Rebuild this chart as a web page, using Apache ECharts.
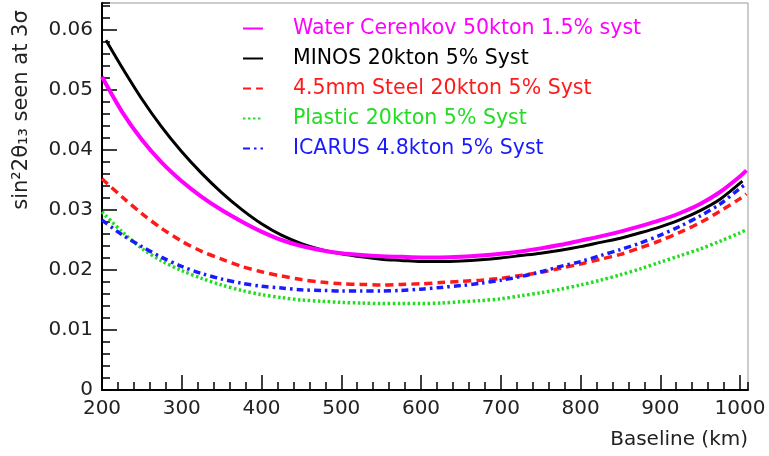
<!DOCTYPE html>
<html>
<head>
<meta charset="utf-8">
<script src="https://cdn.jsdelivr.net/npm/echarts@6/dist/echarts.min.js"></script>
<style>html,body{margin:0;padding:0;background:#fff;}#c{width:769px;height:456px;}</style>
</head>
<body>
<div id="c"></div>
<script>
// Baseline (km) sample points
const baseline      = [200,225,250,275,300,325,350,375,400,425,450,475,500,525,550,575,600,625,650,675,700,725,750,775,800,825,850,875,900,925,950,975,1000,1008];
const baselineMinos = [205,225,250,275,300,325,350,375,400,425,450,475,500,525,550,575,600,625,650,675,700,725,750,775,800,825,850,875,900,925,950,975,1003];

// sin^2 2theta13 seen at 3 sigma
const waterCerenkov = [0.0522,0.0464,0.0417,0.0379,0.0348,0.0322,0.0300,0.0281,0.0264,0.0250,0.0240,0.0233,0.0228,0.0225,0.0223,0.0222,0.0221,0.0221,0.0222,0.0224,0.0227,0.0231,0.0236,0.0242,0.0249,0.0256,0.0264,0.0273,0.0283,0.0295,0.0310,0.0330,0.0356,0.0366];
const minos         = [0.0583,0.0538,0.0485,0.0438,0.0397,0.0361,0.0329,0.0301,0.0277,0.0258,0.0244,0.0234,0.0227,0.0222,0.0218,0.0216,0.0214,0.0214,0.0215,0.0217,0.0220,0.0224,0.0228,0.0233,0.0239,0.0246,0.0253,0.0262,0.0272,0.0284,0.0299,0.0318,0.0348];
const steel         = [0.0352,0.0322,0.0294,0.0269,0.0248,0.0231,0.0218,0.0206,0.0197,0.0190,0.0184,0.0180,0.0177,0.0176,0.0175,0.0176,0.0177,0.0179,0.0181,0.0183,0.0186,0.0191,0.0196,0.0203,0.0210,0.0218,0.0226,0.0237,0.0249,0.0263,0.0279,0.0298,0.0319,0.0327];
const plastic       = [0.0297,0.0264,0.0236,0.0215,0.0199,0.0186,0.0175,0.0166,0.0159,0.0154,0.0150,0.0148,0.0146,0.0145,0.0144,0.0144,0.0144,0.0145,0.0147,0.0149,0.0152,0.0157,0.0162,0.0168,0.0175,0.0183,0.0192,0.0202,0.0213,0.0224,0.0235,0.0248,0.0262,0.0267];
const icarus        = [0.0283,0.0259,0.0239,0.0221,0.0206,0.0194,0.0185,0.0178,0.0173,0.0170,0.0167,0.0166,0.0165,0.0165,0.0165,0.0166,0.0168,0.0171,0.0174,0.0178,0.0183,0.0189,0.0197,0.0206,0.0214,0.0224,0.0234,0.0245,0.0258,0.0273,0.0290,0.0310,0.0336,0.0344];

const seriesNames = ['Water Cerenkov 50kton 1.5% syst','MINOS 20kton 5% Syst','4.5mm Steel 20kton 5% Syst','Plastic 20kton 5% Syst','ICARUS 4.8kton 5% Syst'];
const seriesColors = ['#ff00ff','#000000','#ff1a1a','#22dd22','#1a1aff'];

const xTickValues = [200,300,400,500,600,700,800,900,1000];
const yTickValues = [0,0.01,0.02,0.03,0.04,0.05,0.06];

const pairs = (xs, ys) => xs.map((x, i) => [x, ys[i]]);

const FONT = 'DejaVu Sans';
const chart = echarts.init(document.getElementById('c'));

const series = [
  {name: seriesNames[1], data: pairs(baselineMinos, minos), color: seriesColors[1], lineStyle: {width: 3, type: 'solid'}},
  {name: seriesNames[0], data: pairs(baseline, waterCerenkov), color: seriesColors[0], lineStyle: {width: 4, type: 'solid'}},
  {name: seriesNames[2], data: pairs(baseline, steel), color: seriesColors[2], lineStyle: {width: 3.5, type: [8,5]}},
  {name: seriesNames[3], data: pairs(baseline, plastic), color: seriesColors[3], lineStyle: {width: 3.5, type: [2.5,2.5]}},
  {name: seriesNames[4], data: pairs(baseline, icarus), color: seriesColors[4], lineStyle: {width: 3.5, type: [7,4,2.5,4]}}
].map(s => Object.assign({type: 'line', symbol: 'none', smooth: 0.3, xAxisIndex: 0, yAxisIndex: 0}, s, {
  lineStyle: Object.assign({color: s.color}, s.lineStyle), itemStyle: {color: s.color}
}));

chart.setOption({
  animation: false,
  backgroundColor: '#fff',
  grid: {left: 102, right: 21, top: 3, bottom: 66, show: true, borderColor: '#999', borderWidth: 1},
  legend: {
    orient: 'vertical', left: 242, top: 18, padding: 0, itemGap: 9, itemWidth: 20, itemHeight: 14,
    itemStyle: {opacity: 0},
    textStyle: {fontFamily: FONT, fontSize: 20.5, lineHeight: 20, padding: [0,0,0,25]},
    data: seriesNames.map((n, i) => ({name: n, textStyle: {color: seriesColors[i]}}))
  },
  xAxis: [
    {type: 'value', min: 200, max: 1010, interval: 100,
     axisLine: {show: true, lineStyle: {color: '#000', width: 2}},
     axisTick: {show: true, inside: true, length: 15, customValues: xTickValues, lineStyle: {color: '#000', width: 1.5}},
     axisLabel: {color: '#222', fontFamily: FONT, fontSize: 20, margin: 9, customValues: xTickValues, formatter: v => String(v)},
     splitLine: {show: false},
     name: 'Baseline (km)', nameLocation: 'end', nameGap: 0,
     nameTextStyle: {fontFamily: FONT, fontSize: 20, color: '#222', align: 'right', verticalAlign: 'top', padding: [40, 0, 0, 0]}
    },
    {type: 'value', min: 200, max: 1010, interval: 20, position: 'bottom',
     axisLine: {show: false}, axisLabel: {show: false}, splitLine: {show: false},
     axisTick: {show: true, inside: true, length: 8, lineStyle: {color: '#000', width: 1.5}}}
  ],
  yAxis: [
    {type: 'value', min: 0, max: 0.0645, interval: 0.01,
     axisLine: {show: true, lineStyle: {color: '#000', width: 2}},
     axisTick: {show: true, inside: true, length: 15, customValues: yTickValues, lineStyle: {color: '#000', width: 1.5}},
     axisLabel: {color: '#222', fontFamily: FONT, fontSize: 20, margin: 9, customValues: yTickValues, formatter: v => String(v)},
     splitLine: {show: false}
    },
    {type: 'value', min: 0, max: 0.0645, interval: 0.002, position: 'left',
     axisLine: {show: false}, axisLabel: {show: false}, splitLine: {show: false},
     axisTick: {show: true, inside: true, length: 8, lineStyle: {color: '#000', width: 1.5}}}
  ],
  graphic: [{
    type: 'text', x: 22, y: 110, rotation: Math.PI / 2,
    style: {text: 'sin²2θ₁₃ seen at 3σ', fontFamily: FONT, fontSize: 21, fill: '#222', align: 'center', verticalAlign: 'middle'}
  }],
  series: series
});
</script>
</body>
</html>
